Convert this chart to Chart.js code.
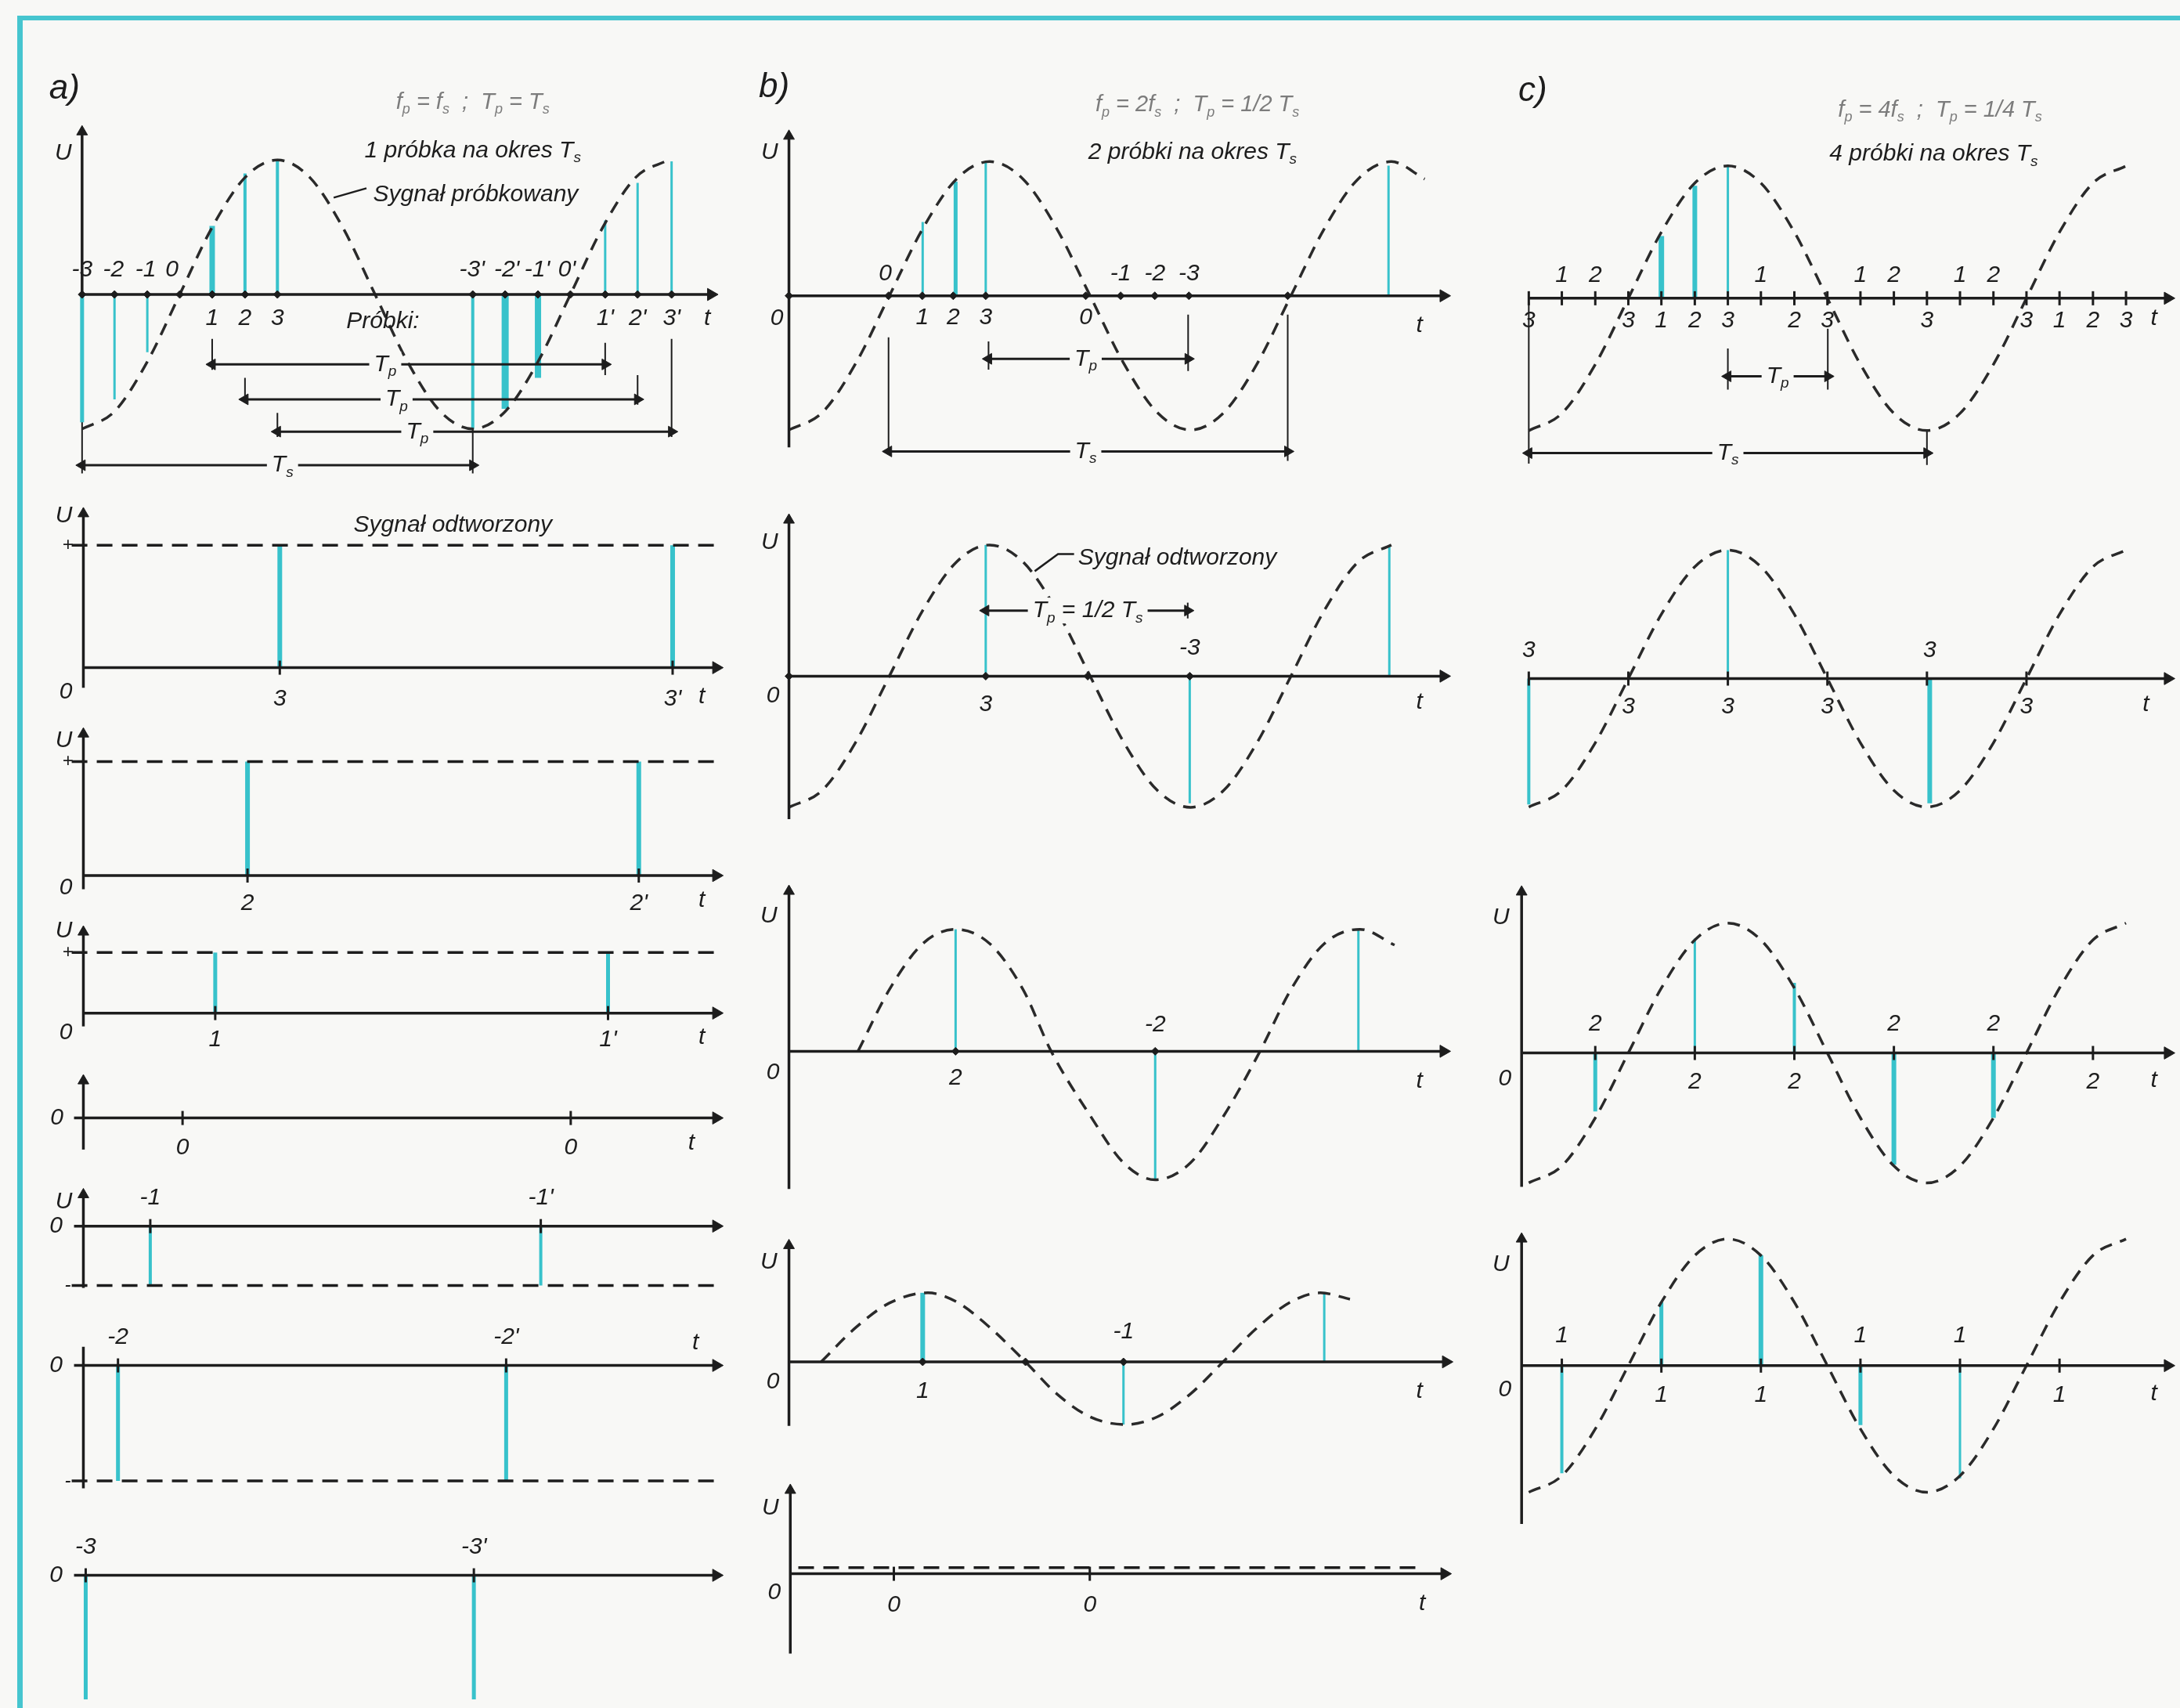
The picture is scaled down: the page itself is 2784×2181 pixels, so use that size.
<!DOCTYPE html>
<html><head><meta charset="utf-8">
<script src="https://cdn.jsdelivr.net/npm/chart.js@4.4.1/dist/chart.umd.min.js"></script>
<style>
html,body{margin:0;padding:0;background:#f8f8f6;}
body{width:2784px;height:2181px;position:relative;overflow:hidden;}
#frame{position:absolute;left:22px;top:20px;right:0;bottom:0;border-top:6px solid #46c5cf;border-left:7px solid #46c5cf;}
canvas{position:absolute;}
</style></head><body><div id="frame"></div>
<script>
// t in units of Ts, U relative to signal peak
const sigT=[0,0.083,0.167,0.25,0.333,0.417,0.5,0.583,0.667,0.75,0.833,0.917,1,1.083,1.167,1.25,1.333,1.417,1.5,1.583];
const sigU=[-1,-0.87,-0.5,0,0.5,0.87,1,0.87,0.5,0,-0.5,-0.87,-1,-0.87,-0.5,0,0.5,0.87,1,0.87];

// a) fp = fs
const a1StemT=[0,0.083,0.167,0.333,0.417,0.5,1,1.083,1.167,1.339,1.422,1.509];
const a1StemU=[-0.95,-0.78,-0.43,0.51,0.9,1,-1,-0.85,-0.62,0.55,0.83,0.99];
const a1TickT=[0,0.083,0.167,0.25,0.333,0.417,0.5,1,1.083,1.167,1.25,1.339,1.422,1.509];
const a1UpLbl=['-3','-2','-1','0',"-3'","-2'","-1'","0'"], a1UpT=[0,0.08,0.163,0.23,0.998,1.087,1.165,1.241];
const a1DnLbl=['1','2','3',"1'","2'","3'"], a1DnT=[0.333,0.417,0.5,1.339,1.422,1.509];
const a2StemT=[0.505,1.515], a2Lvl=0.97, a2Lbl=['3',"3'"];
const a3StemT=[0.422,1.428], a3Lvl=0.91, a3Lbl=['2',"2'"];
const a4StemT=[0.339,1.349], a4Lvl=0.5, a4Lbl=['1',"1'"];
const a5TickT=[0.255,1.253], a5Lbl=['0','0'];
const a6StemT=[0.172,1.176], a6Lvl=-0.51, a6Lbl=['-1',"-1'"];
const a7StemT=[0.089,1.087], a7Lvl=-0.93, a7Lbl=['-2',"-2'"];
const a8StemT=[0.006,1.004], a8Lvl=-1, a8Lbl=['-3',"-3'"];

// b) fp = 2fs
const b1StemT=[0.333,0.415,0.49,1.493], b1StemU=[0.55,0.85,1,0.97];
const b1TickT=[0,0.248,0.332,0.409,0.49,0.739,0.826,0.911,0.996,1.242];
const b1UpLbl=['0','-1','-2','-3'], b1UpT=[0.24,0.826,0.911,0.996];
const b1DnLbl=['1','2','3','0'], b1DnT=[0.332,0.409,0.49,0.739];
const b2StemT=[0.49,0.998,1.495], b2StemU=[1,-0.97,1], b2TickT=[0,0.49,0.744,0.998];
const b3T=[0.172,0.25,0.333,0.415,0.5,0.583,0.653,0.75,0.833,0.912,1,1.083,1.173,1.25,1.333,1.422,1.508];
const b3U=[0,0.47,0.82,0.93,0.82,0.47,0,-0.49,-0.85,-0.98,-0.85,-0.49,0,0.47,0.82,0.93,0.81];
const b3StemT=[0.415,0.912,1.418], b3StemU=[0.93,-0.98,0.93];
const b4T=[0.08,0.167,0.25,0.346,0.417,0.5,0.589,0.667,0.75,0.838,0.917,1,1.081,1.167,1.25,1.323,1.397];
const b4U=[0,0.27,0.46,0.54,0.47,0.27,0,-0.25,-0.43,-0.49,-0.43,-0.25,0,0.27,0.47,0.54,0.49];
const b4StemT=[0.333,0.833,1.333], b4StemU=[0.54,-0.49,0.54];
const b5Lvl=0.05, b5TickT=[0.259,0.749], b5Lbl=['0','0'];

// c) fp = 4fs
const c1StemT=[0.333,0.417,0.5], c1StemU=[0.47,0.85,1];
const c1TickT=[0,0.083,0.167,0.25,0.333,0.417,0.5,0.583,0.667,0.75,0.833,0.917,1,1.083,1.167,1.25,1.333,1.417,1.5];
const c1UpLbl=['1','2','1','1','2','1','2'], c1UpT=[0.083,0.167,0.583,0.833,0.917,1.083,1.167];
const c1DnLbl=['3','3','1','2','3','2','3','3','3','1','2','3'], c1DnT=[0,0.25,0.333,0.417,0.5,0.667,0.75,1,1.25,1.333,1.417,1.5];
const c2StemT=[0,0.5,1.007], c2StemU=[-0.98,1,-0.97], c2TickT=[0,0.25,0.5,0.75,1,1.25];
const c2UpLbl=['3','3'], c2UpT=[0,1.007], c2DnLbl=['3','3','3','3'], c2DnT=[0.25,0.5,0.75,1.25];
const c3StemT=[0.167,0.417,0.667,0.917,1.167], c3StemU=[-0.45,0.88,0.54,-0.86,-0.5];
const c3TickT=[0.167,0.417,0.667,0.917,1.167,1.417], c3UpT=[0.167,0.917,1.167], c3DnT=[0.417,0.667,1.417];
const c4StemT=[0.083,0.333,0.583,0.833,1.083], c4StemU=[-0.85,0.5,0.87,-0.47,-0.89];
const c4TickT=[0.083,0.333,0.583,0.833,1.083,1.333], c4UpT=[0.083,0.833,1.083], c4DnT=[0.333,0.583,1.333];

const INK='#1d1d1d', CYAN='#38c2cb', BG='#f8f8f6', GREY='#7c7c7c';
const FAM="'Liberation Sans Narrow','Liberation Sans','DejaVu Sans',sans-serif";
const COLS={a:{x0:97,ts:510,t0:-0.16,t1:1.66}, b:{x0:999,ts:524,t0:-0.12,t1:1.67}, c:{x0:1943,ts:522,t0:-0.16,t1:1.612}};
const same=(arr,v)=>arr.map(()=>v);

const panels=[
 {col:'a',y0:376,pu:178,u0:-1.45,u1:1.66,curve:[sigT.slice(0,19),sigU.slice(0,19)],
  stems:[a1StemT,a1StemU],stemW:[5,3,3,7,4,4,4,9,8,3,3,3],hAxis:[0,1.61],vAxis:[0,0,1.21,true],
  ticks:a1TickT,tickStyle:'dot',up:[a1UpLbl,a1UpT],dn:[a1DnLbl,a1DnT],off:31,
  dims:[[0.333,1.339,-0.52,'T_p',0.776],[0.417,1.422,-0.78,'T_p',0.805],[0.5,1.509,-1.02,'T_p',0.858],[0,1,-1.27,'T_s',0.513]],
  exts:[[0.333,-0.33,-0.56],[0.417,-0.62,-0.8],[0.5,-0.88,-1.06],[1.339,-0.36,-0.6],[1.422,-0.6,-0.82],[1.509,-0.33,-1.06],[0,-0.86,-1.33],[1,-1,-1.33]],
  leaders:[[[0.644,0.72],[0.728,0.79]]],
  text:[[-0.045,1.53,'a)',{size:44}],[1.0,1.43,'f_p = f_s  ;  T_p = T_s',{size:29,color:GREY}],[1.0,1.07,'1 próbka na okres T_s'],
   [0.745,0.74,'Sygnał próbkowany',{align:'left'}],[-0.048,1.05,'U'],[0.77,-0.2,'Próbki:'],[1.6,-0.18,'t']]},
 {col:'a',y0:860,pu:176,u0:-0.35,u1:1.3,level:a2Lvl,lvl:[-0.03,1.627],stems:[a2StemT,same(a2StemT,a2Lvl)],stemW:[6,6],
  hAxis:[0,1.627],vAxis:[0,-0.16,1.22,true],ticks:a2StemT,tickStyle:'bar',dn:[a2Lbl,a2StemT],off:40,
  text:[[-0.05,1.2,'U'],[-0.04,a2Lvl,'+',{size:24}],[-0.045,-0.19,'0'],[1.59,-0.23,'t'],[0.95,1.13,'Sygnał odtworzony']]},
 {col:'a',y0:1125,pu:176,u0:-0.3,u1:1.2,level:a3Lvl,lvl:[-0.03,1.627],stems:[a3StemT,same(a3StemT,a3Lvl)],stemW:[6,6],
  hAxis:[0,1.627],vAxis:[0,-0.11,1.13,true],ticks:a3StemT,tickStyle:'bar',dn:[a3Lbl,a3StemT],off:36,
  text:[[-0.05,1.075,'U'],[-0.04,a3Lvl,'+',{size:24}],[-0.045,-0.1,'0'],[1.59,-0.2,'t']]},
 {col:'a',y0:1299,pu:176,u0:-0.3,u1:0.8,level:a4Lvl,lvl:[-0.03,1.627],stems:[a4StemT,same(a4StemT,a4Lvl)],stemW:[5,5],
  hAxis:[0,1.627],vAxis:[0,-0.11,0.67,true],ticks:a4StemT,tickStyle:'bar',dn:[a4Lbl,a4StemT],off:34,
  text:[[-0.05,0.68,'U'],[-0.04,a4Lvl,'+',{size:24}],[-0.045,-0.16,'0'],[1.59,-0.2,'t']]},
 {col:'a',y0:1428,pu:176,u0:-0.35,u1:0.4,hAxis:[-0.024,1.627],vAxis:[0,-0.28,0.33,true],ticks:a5TickT,tickStyle:'bar',
  dn:[a5Lbl,a5TickT],off:38,text:[[-0.068,0,'0'],[1.563,-0.22,'t']]},
 {col:'a',y0:1562,pu:176,u0:-0.6,u1:0.3,level:a6Lvl,lvl:[-0.03,1.627],stems:[a6StemT,same(a6StemT,a6Lvl)],stemW:[4,4],
  hAxis:[-0.024,1.627],vAxis:[0,-0.53,0.27,true],ticks:a6StemT,tickStyle:'bar',up:[a6Lbl,a6StemT],off:36,
  text:[[-0.05,0.21,'U'],[-0.07,0,'0'],[-0.04,a6Lvl,'-',{size:24}]]},
 {col:'a',y0:1737,pu:176,u0:-1.05,u1:0.3,level:a7Lvl,lvl:[-0.03,1.627],stems:[a7StemT,same(a7StemT,a7Lvl)],stemW:[5,5],
  hAxis:[-0.024,1.627],vAxis:[0,-0.99,0.15,false],ticks:a7StemT,tickStyle:'bar',up:[a7Lbl,a7StemT],off:36,
  text:[[-0.07,0,'0'],[-0.04,a7Lvl,'-',{size:24}],[1.574,0.18,'t']]},
 {col:'a',y0:2004.5,pu:176,u0:-1.05,u1:0.3,stems:[a8StemT,same(a8StemT,a8Lvl)],stemW:[5,5],
  hAxis:[-0.024,1.627],ticks:a8StemT,tickStyle:'bar',up:[a8Lbl,a8StemT],off:36,text:[[-0.07,0,'0']]},

 {col:'b',y0:379,pu:178,u0:-1.35,u1:1.65,curve:[sigT,sigU],stems:[b1StemT,b1StemU],stemW:[3,5,3,3],
  hAxis:[0,1.63],vAxis:[0,-1.13,1.19,true],ticks:b1TickT,tickStyle:'dot',up:[b1UpLbl,b1UpT],dn:[b1DnLbl,b1DnT],off:28,
  dims:[[0.497,0.994,-0.47,'T_p',0.739],[0.248,1.242,-1.16,'T_s',0.739]],
  exts:[[0.497,-0.34,-0.55],[0.994,-0.14,-0.56],[0.248,-0.31,-1.17],[1.242,-0.14,-1.23]],
  text:[[-0.037,1.55,'b)',{size:44}],[1.017,1.42,'f_p = 2f_s  ;  T_p = 1/2 T_s',{size:29,color:GREY}],[1.005,1.07,'2 próbki na okres T_s'],
   [-0.048,1.07,'U'],[-0.03,-0.17,'0'],[1.57,-0.22,'t']]},
 {col:'b',y0:864,pu:176,u0:-1.15,u1:1.25,curve:[sigT.slice(0,19),sigU.slice(0,19)],stems:[b2StemT,b2StemU],stemW:[3,3,3],
  hAxis:[0,1.63],vAxis:[0,-1.09,1.19,true],ticks:b2TickT,tickStyle:'dot',up:[['-3'],[0.998]],dn:[['3'],[0.49]],off:36,
  dims:[[0.49,0.993,0.5,'T_p = 1/2 T_s',0.744]],exts:[[0.993,0.44,0.56]],leaders:[[[0.612,0.8],[0.67,0.93],[0.71,0.93]]],
  text:[[0.72,0.9,'Sygnał odtworzony',{align:'left'}],[-0.048,1.02,'U'],[-0.04,-0.15,'0'],[1.57,-0.2,'t']]},
 {col:'b',y0:1343,pu:176,u0:-1.12,u1:1.28,curve:[b3T,b3U],stems:[b3StemT,b3StemU],stemW:[3,3,3],
  hAxis:[0,1.63],vAxis:[0,-1.05,1.22,true],ticks:[0.415,0.912],tickStyle:'dot',up:[['-2'],[0.912]],dn:[['2'],[0.415]],off:34,
  text:[[-0.05,1.03,'U'],[-0.04,-0.16,'0'],[1.57,-0.23,'t']]},
 {col:'b',y0:1741,pu:176,u0:-0.6,u1:0.98,curve:[b4T,b4U],stems:[b4StemT,b4StemU],stemW:[6,3,3],
  hAxis:[0,1.636],vAxis:[0,-0.5,0.91,true],ticks:[0.333,0.589,0.833],tickStyle:'dot',up:[['-1'],[0.833]],dn:[['1'],[0.333]],off:38,
  text:[[-0.05,0.78,'U'],[-0.04,-0.16,'0'],[1.57,-0.23,'t']]},
 {col:'b',y0:2010,pu:176,u0:-0.7,u1:0.72,level:b5Lvl,lvl:[0.02,1.57],hAxis:[0,1.636],vAxis:[0,-0.64,0.67,true],
  ticks:b5TickT,tickStyle:'bar',dn:[b5Lbl,b5TickT],off:40,text:[[-0.05,0.53,'U'],[-0.04,-0.15,'0'],[1.58,-0.24,'t']]},

 {col:'c',y0:382.5,pu:177,u0:-1.35,u1:1.65,curve:[sigT.slice(0,19),sigU.slice(0,19)],stems:[c1StemT,c1StemU],stemW:[7,6,3],
  hAxis:[0,1.605],ticks:c1TickT,tickStyle:'bar',up:[c1UpLbl,c1UpT],dn:[c1DnLbl,c1DnT],off:29,
  dims:[[0.5,0.751,-0.59,'T_p',0.625],[0,1,-1.17,'T_s',0.5]],
  exts:[[0,-0.03,-1.25],[0.5,-0.38,-0.69],[0.751,-0.23,-0.69],[1,-1,-1.26]],
  text:[[0.01,1.56,'c)',{size:44}],[1.033,1.42,'f_p = 4f_s  ;  T_p = 1/4 T_s',{size:29,color:GREY}],[1.017,1.09,'4 próbki na okres T_s'],[1.57,-0.15,'t']]},
 {col:'c',y0:866,pu:175,u0:-1.1,u1:1.1,curve:[sigT.slice(0,19),sigU.slice(0,19)],stems:[c2StemT,c2StemU],stemW:[4,3,6],
  hAxis:[0,1.605],ticks:c2TickT,tickStyle:'bar',up:[c2UpLbl,c2UpT],dn:[c2DnLbl,c2DnT],off:36,text:[[1.55,-0.2,'t']]},
 {col:'c',y0:1346,pu:176,u0:-1.1,u1:1.3,curve:[sigT.slice(0,19),sigU.slice(0,19)],stems:[c3StemT,c3StemU],stemW:[5,3,4,6,6],
  hAxis:[-0.018,1.605],vAxis:[-0.018,-1.03,1.24,true],ticks:c3TickT,tickStyle:'bar',up:[same(c3UpT,'2'),c3UpT],dn:[same(c3DnT,'2'),c3DnT],off:37,
  text:[[-0.07,1.04,'U'],[-0.06,-0.2,'0'],[1.57,-0.21,'t']]},
 {col:'c',y0:1743,pu:172,u0:-1.3,u1:1.05,curve:[sigT.slice(0,19),sigU.slice(0,19)],stems:[c4StemT,c4StemU],stemW:[4,5,6,5,3],
  hAxis:[-0.018,1.605],vAxis:[-0.018,-1.25,1.0,true],ticks:c4TickT,tickStyle:'bar',up:[same(c4UpT,'1'),c4UpT],dn:[same(c4DnT,'1'),c4DnT],off:38,
  text:[[-0.07,0.8,'U'],[-0.06,-0.19,'0'],[1.57,-0.22,'t']]}
];

function seg(pts,o){
  return Object.assign({data:pts.map(([x,y])=>({x,y})),showLine:true,pointRadius:0,borderColor:INK,borderWidth:3,clip:false,order:1},o);
}
function marks(pts,o){
  return Object.assign({data:pts.map(([x,y])=>({x,y})),showLine:false,pointRadius:8,pointStyle:'triangle',
    pointBackgroundColor:INK,pointBorderColor:INK,pointBorderWidth:1,clip:false,order:0},o);
}

function drawRich(ctx,s,x,y,size,align,color,bg){
  const parts=[];
  for(let i=0;i<s.length;i++){
    if(s[i]==='_'&&i+1<s.length){parts.push({c:s[i+1],sub:true});i++;}
    else if(parts.length&&!parts[parts.length-1].sub) parts[parts.length-1].c+=s[i];
    else parts.push({c:s[i],sub:false});
  }
  const fN='italic '+size+'px '+FAM, fS='italic '+Math.round(size*0.62)+'px '+FAM;
  let w=0;
  parts.forEach(p=>{ctx.font=p.sub?fS:fN;p.w=ctx.measureText(p.c).width;w+=p.w;});
  let x0=align==='left'?x:align==='right'?x-w:x-w/2;
  if(bg){ctx.fillStyle=BG;ctx.fillRect(x0-6,y-size*0.55,w+12,size*1.1);}
  ctx.fillStyle=color||INK;ctx.textBaseline='middle';ctx.textAlign='left';
  parts.forEach(p=>{ctx.font=p.sub?fS:fN;ctx.fillText(p.c,x0,p.sub?y+size*0.32:y);x0+=p.w;});
}

const textPlugin={id:'txt',afterDatasetsDraw(chart){
  const p=chart.config.options.plugins.txt.panel, ctx=chart.ctx, sx=chart.scales.x, sy=chart.scales.y;
  const y0=sy.getPixelForValue(0);
  ctx.save();
  const tick=(lbl,side)=>{ if(!lbl) return; lbl[1].forEach((t,i)=>drawRich(ctx,lbl[0][i],sx.getPixelForValue(t),y0+side*p.off,30,'center')); };
  tick(p.up,-1); tick(p.dn,1);
  (p.dims||[]).forEach(d=>drawRich(ctx,d[3],sx.getPixelForValue(d[4]),sy.getPixelForValue(d[2]),30,'center',INK,true));
  (p.text||[]).forEach(([t,u,s,o])=>{o=o||{};drawRich(ctx,s,sx.getPixelForValue(t),sy.getPixelForValue(u),o.size||30,o.align||'center',o.color);});
  ctx.restore();
}};

panels.forEach(p=>{
  const c=COLS[p.col], ds=[];
  if(p.curve) ds.push(seg(p.curve[0].map((t,i)=>[t,p.curve[1][i]]),{borderDash:[16,11],borderWidth:3.5,cubicInterpolationMode:'monotone',borderColor:'#2a2a2a',order:2}));
  if(p.level!=null) ds.push(seg([[p.lvl[0],p.level],[p.lvl[1],p.level]],{borderDash:[20,12],borderWidth:3.5,order:2}));
  if(p.stems) p.stems[0].forEach((t,i)=>ds.push(seg([[t,0],[t,p.stems[1][i]]],{borderColor:CYAN,borderWidth:p.stemW[i],order:3})));
  if(p.hAxis){ds.push(seg([[p.hAxis[0],0],[p.hAxis[1],0]],{borderWidth:3.5}));ds.push(marks([[p.hAxis[1],0]],{pointRotation:90,pointRadius:9}));}
  if(p.vAxis){const v=p.vAxis;ds.push(seg([[v[0],v[1]],[v[0],v[2]]],{borderWidth:3.5}));if(v[3])ds.push(marks([[v[0],v[2]]],{pointRadius:8}));}
  if(p.ticks){
    if(p.tickStyle==='dot') ds.push(marks(p.ticks.map(t=>[t,0]),{pointStyle:'rectRot',pointRadius:5}));
    else ds.push(marks(p.ticks.map(t=>[t,0]),{pointStyle:'line',pointRotation:90,pointRadius:9,pointBorderWidth:3}));
  }
  (p.dims||[]).forEach(d=>{
    ds.push(seg([[d[0],d[2]],[d[1],d[2]]],{borderWidth:3}));
    ds.push(marks([[d[0],d[2]],[d[1],d[2]]],{pointRadius:8,pointRotation:ctx=>ctx.dataIndex===0?270:90}));
  });
  (p.exts||[]).forEach(e=>ds.push(seg([[e[0],e[1]],[e[0],e[2]]],{borderWidth:2,order:4})));
  (p.leaders||[]).forEach(l=>ds.push(seg(l,{borderWidth:2.5})));

  const left=c.x0+c.t0*c.ts, w=Math.round((c.t1-c.t0)*c.ts);
  const top=p.y0-p.u1*p.pu, h=Math.round((p.u1-p.u0)*p.pu);
  const cv=document.createElement('canvas');
  cv.width=w;cv.height=h;
  cv.style.left=left+'px';cv.style.top=top+'px';cv.style.width=w+'px';cv.style.height=h+'px';
  document.body.appendChild(cv);
  new Chart(cv,{type:'scatter',data:{datasets:ds},plugins:[textPlugin],
    options:{responsive:false,animation:false,events:[],layout:{padding:0},
      scales:{x:{type:'linear',min:c.t0,max:c.t1,display:false},y:{type:'linear',min:p.u0,max:p.u1,display:false}},
      plugins:{legend:{display:false},tooltip:{enabled:false},txt:{panel:p}}}});
});
</script></body></html>
